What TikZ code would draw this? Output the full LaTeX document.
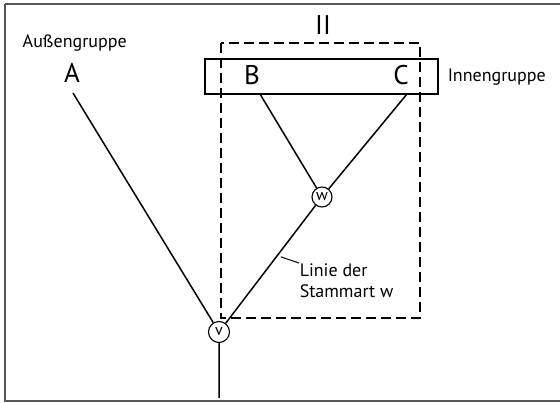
\documentclass[tikz,border=0pt]{standalone}
\usepackage{fontspec}
\setmainfont{PT Sans}
\usetikzlibrary{calc}
\definecolor{inkframe}{HTML}{555555}

\begin{document}
\begin{tikzpicture}[x=1pt, y=-1pt, line width=1.5pt,
  taxon/.style={font=\fontsize{27}{27}\selectfont, inner sep=0pt},
  lab/.style={font=\fontsize{18}{21}\selectfont, inner sep=0pt},
  knot/.style={circle, draw, line width=1.1pt, minimum size=20pt, inner sep=0pt,
               font=\fontsize{16}{16}\selectfont, fill=white}]
  \useasboundingbox (0,0) rectangle (560,403);
  \draw[inkframe, line width=1.8pt] (5,4) -- (565,4) (5,4) -- (5,401) -- (565,401);
  % groups
  \draw[dashed, dash pattern=on 10pt off 5pt, line width=1.5pt] (221,43) rectangle (420,318);
  \draw[line width=1.1pt] (205,59) rectangle (438,94);
  \node[taxon] (ii) at (323,25) {II};
  \node[lab, anchor=west] (aussen) at (22,43) {Außengruppe};
  \node[lab, anchor=west] (innen) at (447,77) {Innengruppe};
  % taxa and nodes
  \node[taxon] (a) at (72,73) {A};
  \node[taxon] (b) at (252,75) {B};
  \node[taxon] (c) at (401,75) {C};
  \coordinate (atop) at (73,93);
  \coordinate (btop) at (260,94);
  \coordinate (ctop) at (407,94);
  \coordinate (root) at (219,398);
  \node[knot] (w) at (322,197) {w};
  \node[knot, minimum size=21pt] (v) at (219,332) {v};
  \draw (btop) -- (w) (ctop) -- (w);
  \draw (w) -- coordinate[pos=0.42] (stamm) (v);
  \draw (atop) -- (v) -- (root);
  % label of the stem line
  \node[lab, anchor=north west, align=left] (linie) at (299,263) {Linie der\\Stammart w};
  \draw[line width=1pt] ($(stamm)+(3,2)$) -- (linie.north west);
\end{tikzpicture}
\end{document}
